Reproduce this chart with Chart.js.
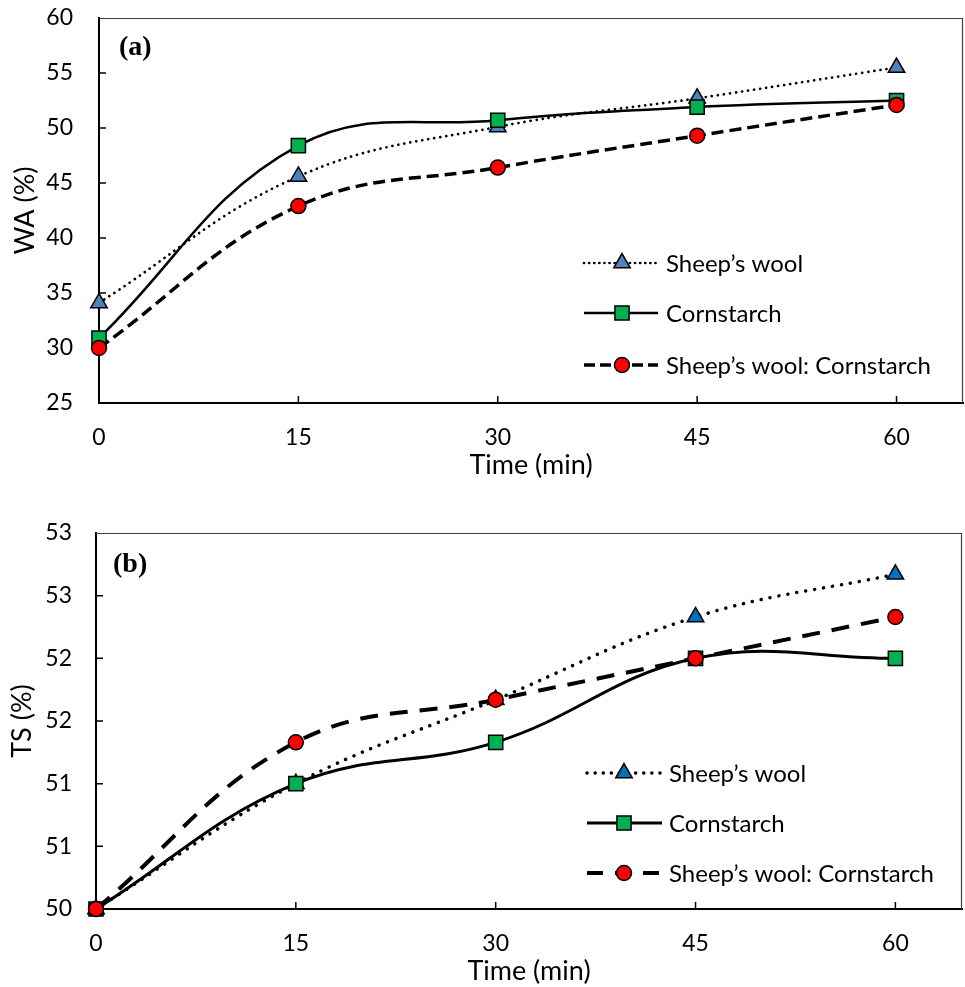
<!DOCTYPE html>
<html><head><meta charset="utf-8">
<script src="https://cdn.jsdelivr.net/npm/chart.js@4.4.1/dist/chart.umd.min.js"></script>
<style>
html,body{margin:0;padding:0;background:#fff;}
#wrap{position:relative;width:965px;height:987px;background:#fff;}
canvas{position:absolute;left:0;}
#cA{top:0;}
#cB{top:490px;}
</style></head><body>
<div id="wrap"><canvas id="cA" width="965" height="490"></canvas><canvas id="cB" width="965" height="497"></canvas></div>
<script>
// ---------- data ----------
const timeMin = [0, 15, 30, 45, 60];
const seriesNames = ["Sheep’s wool", "Cornstarch", "Sheep’s wool: Cornstarch"];
const waSheep = [34.1, 45.6, 50.1, 52.7, 55.5];
const waCorn  = [30.9, 48.4, 50.7, 51.9, 52.5];
const waMix   = [30.0, 42.9, 46.4, 49.3, 52.1];
const tsSheep = [50.0, 51.0, 51.67, 52.33, 52.67];
const tsCorn  = [50.0, 51.0, 51.33, 52.0, 52.0];
const tsMix   = [50.0, 51.33, 51.67, 52.0, 52.33];
const xTickValues = [0, 15, 30, 45, 60];
const waTickValues = [25, 30, 35, 40, 45, 50, 55, 60];
const tsTickValues = [50, 50.5, 51, 51.5, 52, 52.5, 53];
const tsTickLabels = ['50', '51', '51', '52', '52', '53', '53'];

const FONT = 'Lato';
Chart.defaults.font.family = FONT;
Chart.defaults.color = '#000';

function pts(ys){ return timeMin.map((t,i)=>({x:t, y:ys[i]})); }

const decor = {
  id: 'decor',
  beforeDatasetsDraw(chart, args, o){
    const {ctx, chartArea:a, scales} = chart;
    ctx.save();
    ctx.strokeStyle = '#404040'; ctx.lineWidth = 1.2;
    ctx.beginPath();
    ctx.moveTo(a.left, a.top+0.5); ctx.lineTo(a.right-0.5, a.top+0.5); ctx.lineTo(a.right-0.5, a.bottom);
    ctx.stroke();
    ctx.strokeStyle = '#000'; ctx.lineWidth = 1.5;
    ctx.beginPath();
    scales.x.ticks.forEach(t=>{ const p = scales.x.getPixelForValue(t.value); if (p>a.left+2){ ctx.moveTo(p, a.bottom); ctx.lineTo(p, a.bottom-7);} });
    scales.y.ticks.forEach(t=>{ const p = scales.y.getPixelForValue(t.value); if (p>a.top+2 && p<a.bottom-2){ ctx.moveTo(a.left, p); ctx.lineTo(a.left+7, p);} });
    ctx.stroke();
    ctx.restore();
  },
  afterDraw(chart, args, o){
    const {ctx} = chart;
    ctx.save();
    ctx.font = 'bold 28px "Liberation Serif"';
    ctx.fillStyle = '#000'; ctx.textBaseline = 'middle'; ctx.textAlign = 'left';
    ctx.fillText(o.label, o.labelX, o.labelY);
    chart.data.datasets.forEach((ds, i)=>{
      const y = o.legY[i];
      ctx.save();
      ctx.strokeStyle = ds.borderColor; ctx.lineWidth = ds.borderWidth;
      ctx.lineCap = ds.borderCapStyle || 'butt';
      ctx.setLineDash(ds.legendDash || ds.borderDash || []);
      ctx.beginPath(); ctx.moveTo(o.legX0, y); ctx.lineTo(o.legX1, y); ctx.stroke();
      ctx.restore();
      ctx.save();
      ctx.fillStyle = ds.pointBackgroundColor; ctx.strokeStyle = ds.pointBorderColor; ctx.lineWidth = ds.pointBorderWidth;
      Chart.helpers.drawPoint(ctx, {pointStyle: ds.pointStyle, radius: ds.pointRadius, rotation: 0, borderWidth: ds.pointBorderWidth}, o.legMarkX, y);
      ctx.restore();
      ctx.font = o.legFont + 'px ' + FONT; ctx.fillStyle = '#000';
      ctx.textBaseline = 'middle'; ctx.textAlign = 'left';
      ctx.fillText(ds.label, o.legTextX, y + 1);
    });
    ctx.restore();
  }
};

function zeroPad(s){ s.paddingTop = 0; s.paddingBottom = 0; s.paddingLeft = 0; s.paddingRight = 0; }

function makeChart(id, cfg){
  const ds = [
    {label: seriesNames[0], data: pts(cfg.sheep), borderColor:'#000', borderWidth: cfg.dotW, borderDash: cfg.dot, legendDash: cfg.dotLeg, borderCapStyle:'round',
     pointStyle:'triangle', pointRadius: 9.5, pointBackgroundColor: cfg.blue, pointBorderColor:'#000', pointBorderWidth:1.5, tension: 0.4, order: 3},
    {label: seriesNames[1], data: pts(cfg.corn), borderColor:'#000', borderWidth: cfg.solidW, borderDash: [],
     pointStyle:'rect', pointRadius: 10, pointBackgroundColor:'#00B050', pointBorderColor:'#000', pointBorderWidth:1.5, tension: 0.4, order: 2},
    {label: seriesNames[2], data: pts(cfg.mix), borderColor:'#000', borderWidth: cfg.dashW, borderDash: cfg.dash, legendDash: cfg.dashLeg, borderCapStyle:'butt',
     pointStyle:'circle', pointRadius: 7.5, pointBackgroundColor:'#FF0000', pointBorderColor:'#000', pointBorderWidth:1.5, tension: 0.4, order: 1}
  ];
  ds.forEach(d=>{ d.pointHoverRadius = d.pointRadius; d.fill = false; d.clip = false; });
  return new Chart(document.getElementById(id), {
    type: 'line',
    data: {datasets: ds},
    plugins: [decor],
    options: {
      responsive: false, animation: false, devicePixelRatio: 1,
      layout: {padding: cfg.pad, autoPadding: false},
      plugins: {legend:{display:false}, tooltip:{enabled:false},
        decor: cfg.decor},
      scales: {
        x: {type:'linear', min:0, max:65,
            afterBuildTicks: s => { s.ticks = xTickValues.map(v=>({value:v})); },
            afterFit: s => { s.height = cfg.xH; zeroPad(s); },
            grid:{display:false, drawTicks:false},
            border:{display:true, color:'#000', width:2},
            ticks:{padding: cfg.xTickPad, font:{size: cfg.tickFont}, color:'#000', maxRotation:0, autoSkip:false},
            title:{display:true, text:'Time (min)', font:{size: cfg.titleFont}, color:'#000', padding:{top:0, bottom: cfg.xTitlePad}}},
        y: {type:'linear', min: cfg.ymin, max: cfg.ymax,
            afterBuildTicks: s => { s.ticks = cfg.yTicks.map(v=>({value:v})); },
            afterFit: s => { s.width = cfg.yW; zeroPad(s); },
            grid:{display:false, drawTicks:false},
            border:{display:true, color:'#000', width:2},
            ticks:{padding: cfg.yTickPad, font:{size: cfg.tickFont}, color:'#000', autoSkip:false,
                   callback: cfg.yLabel},
            title:{display:true, text: cfg.yTitle, font:{size: cfg.titleFont}, color:'#000', padding:{top: cfg.yTitlePad, bottom:0}}}
      }
    }
  });
}

makeChart('cA', {
  sheep: waSheep, corn: waCorn, mix: waMix, blue:'#4F81BD',
  dotW: 2.7, dot:[0.1, 6], dotLeg:[0.1, 5], solidW: 2.5, dashW: 3.5, dash:[12, 6], dashLeg:[11, 5],
  pad:{top:18, right:2, left:0, bottom:0}, xH: 87, yW: 99,
  xTickPad: 21, tickFont: 23, titleFont: 27, xTitlePad: 9, yTickPad: 26, yTitlePad: 9,
  ymin:25, ymax:60, yTicks: waTickValues, yTitle:'WA (%)',
  yLabel: (v)=> String(v),
  decor: {label:'(a)', labelX:119, labelY:48, legY:[263, 313, 365], legX0:584, legX1:658, legMarkX:622, legTextX:666, legFont:24}
});

makeChart('cB', {
  sheep: tsSheep, corn: tsCorn, mix: tsMix, blue:'#0070C0',
  dotW: 3.5, dot:[0.1, 9], dotLeg:[0.1, 8], solidW: 3, dashW: 4, dash:[18, 12], dashLeg:[16, 12],
  pad:{top:43, right:3, left:0, bottom:0}, xH: 78, yW: 96,
  xTickPad: 21, tickFont: 23, titleFont: 27, xTitlePad: 0, yTickPad: 24, yTitlePad: 6,
  ymin:50, ymax:53, yTicks: tsTickValues, yTitle:'TS (%)',
  yLabel: (v, i)=> tsTickLabels[i],
  decor: {label:'(b)', labelX:113, labelY:75, legY:[283, 333, 383], legX0:587, legX1:662, legMarkX:624, legTextX:669, legFont:24}
});
</script>
</body></html>
